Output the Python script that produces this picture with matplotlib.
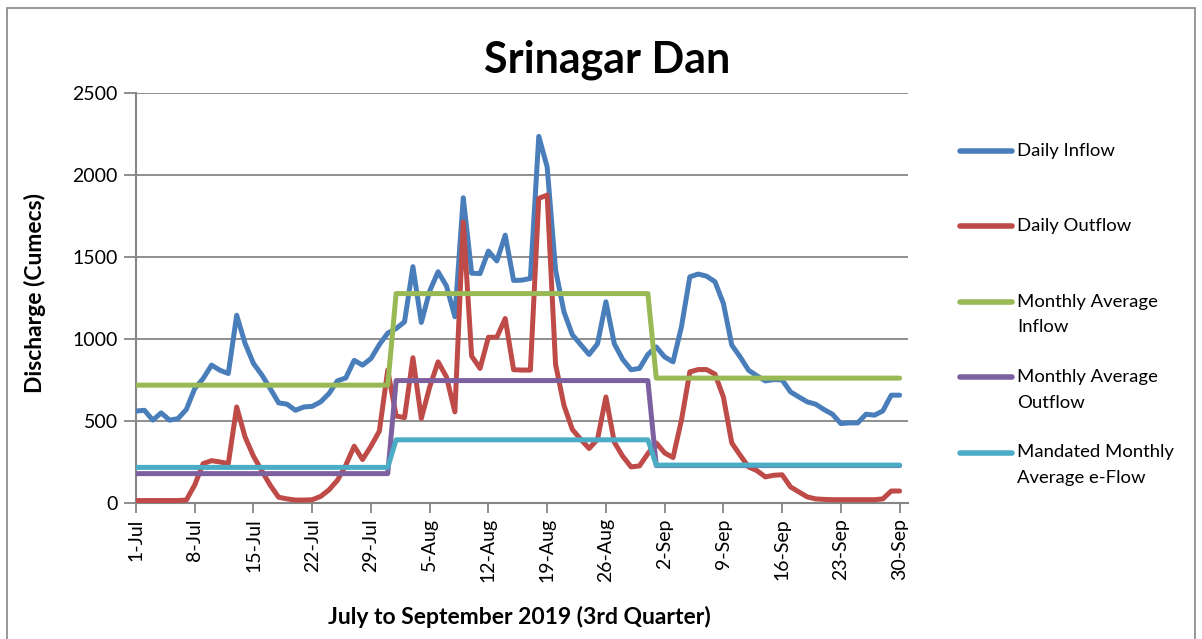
import matplotlib
matplotlib.use("Agg")
import matplotlib.pyplot as plt
from matplotlib.lines import Line2D
from matplotlib.patches import Rectangle
import numpy as np

# ---------------- data ----------------
tick_days = [0, 7, 14, 21, 28, 35, 42, 49, 56, 63, 70, 77, 84, 91]
tick_labels = ["1-Jul", "8-Jul", "15-Jul", "22-Jul", "29-Jul", "5-Aug", "12-Aug",
               "19-Aug", "26-Aug", "2-Sep", "9-Sep", "16-Sep", "23-Sep", "30-Sep"]

daily_inflow = [560, 565, 505, 549, 505, 514, 570, 697, 758, 840, 809, 789, 1144, 972,
                850, 780, 697, 610, 602, 565, 585, 589, 616, 667, 744, 762, 869, 840,
                880, 965, 1035,
                1063, 1104, 1440, 1100, 1292, 1409, 1322, 1135, 1860, 1400, 1398, 1535,
                1475, 1632, 1356, 1358, 1368, 2234, 2047, 1420, 1165, 1025, 965, 905,
                970, 1226, 970, 875, 812, 820, 905,
                951, 890, 860, 1073, 1378, 1395, 1382, 1348, 1216, 962, 890, 809, 775,
                744, 752, 750, 677, 646, 616, 602, 569, 541, 484, 488, 488, 541, 535,
                561, 657, 657]

daily_outflow = [15, 15, 15, 15, 15, 15, 18, 110, 240, 258, 250, 240, 585, 402,
                 285, 195, 108, 35, 25, 18, 18, 20, 40, 80, 138, 230, 346, 265,
                 346, 438, 810,
                 530, 520, 885, 515, 707, 860, 768, 555, 1712, 895, 820, 1010,
                 1010, 1124, 812, 810, 810, 1856, 1876, 845, 595, 448, 388, 332,
                 388, 646, 370, 285, 220, 226, 301,
                 366, 305, 277, 504, 799, 813, 813, 785, 646, 366, 291, 220, 197,
                 159, 169, 172, 98, 67, 37, 25, 22, 20, 20, 20, 20, 20, 20,
                 25, 73, 73]

month_lengths = [31, 31, 30]
monthly_avg_inflow = [718, 1276, 761]
monthly_avg_outflow = [179, 746, 228]
mandated_eflow = [217, 385, 231]

series_labels = ["Daily Inflow", "Daily Outflow", "Monthly Average\nInflow",
                 "Monthly Average\nOutflow", "Mandated Monthly\nAverage e-Flow"]
colors = ["#4A7EBB", "#BE4B48", "#98B954", "#7D60A0", "#4BACC6"]

# ---------------- figure ----------------
W, H = 1202, 639
fig = plt.figure(figsize=(W / 100, H / 100), dpi=100)
FONT = "Lato"
plt.rcParams["font.family"] = [FONT, "DejaVu Sans"]

left, right, bottom, top = 136, 908, 503, 92.7
ax = fig.add_axes([left / W, 1 - bottom / H, (right - left) / W, (bottom - top) / H])

days = np.arange(len(daily_inflow))
def expand(vals):
    return np.repeat(vals, month_lengths)

lw = 3.6
all_series = [daily_inflow, daily_outflow, expand(monthly_avg_inflow),
              expand(monthly_avg_outflow), expand(mandated_eflow)]
for i, s in enumerate(all_series):
    ax.plot(days, s, color=colors[i], lw=lw, solid_joinstyle="round",
            solid_capstyle="round", zorder=3 + i)

ax.set_xlim(0, 92)
ax.set_ylim(0, 2500)
ax.set_yticks([0, 500, 1000, 1500, 2000, 2500])
ax.set_xticks(tick_days)
ax.set_xticklabels(tick_labels, rotation=90, fontsize=14, va="top")
ax.tick_params(axis="y", labelsize=14, length=9, width=1.3, color="#868686", pad=4)
ax.tick_params(axis="x", length=7, width=1.3, color="#868686", pad=4)
ax.grid(axis="y", color="#868686", lw=1.3, zorder=1)
ax.set_axisbelow(True)
for sp in ["top", "right"]:
    ax.spines[sp].set_visible(False)
for sp in ["left", "bottom"]:
    ax.spines[sp].set_color("#868686")
    ax.spines[sp].set_linewidth(1.5)

# titles and labels
fig.text(607 / W, 1 - 60 / H, "Srinagar Dan", fontsize=31, fontweight="bold",
         ha="center", va="center")
fig.text(35 / W, 1 - 293 / H, "Discharge (Cumecs)", fontsize=16.5, fontweight="bold",
         rotation=90, ha="center", va="center")
fig.text(519 / W, 1 - 617 / H, "July to September 2019 (3rd Quarter)", fontsize=16.5,
         fontweight="bold", ha="center", va="center")

# legend (manual, matching Excel layout)
handle_y = [151, 226, 301.5, 377, 452.5]
for i, lab in enumerate(series_labels):
    y = 1 - handle_y[i] / H
    fig.add_artist(Line2D([960 / W, 1012 / W], [y, y], color=colors[i], lw=4,
                          solid_capstyle="round", transform=fig.transFigure))
    for k, line in enumerate(lab.split("\n")):
        fig.text(1017 / W, 1 - (handle_y[i] + 25.5 * k) / H, line, fontsize=13.3,
                 ha="left", va="center")

# chart border
fig.add_artist(Rectangle((7 / W, -0.02), (1195 - 7) / W, 1.02 - 8 / H,
                         transform=fig.transFigure, fill=False,
                         edgecolor="#868686", lw=1.2))

fig.savefig("out.png", dpi=100)
